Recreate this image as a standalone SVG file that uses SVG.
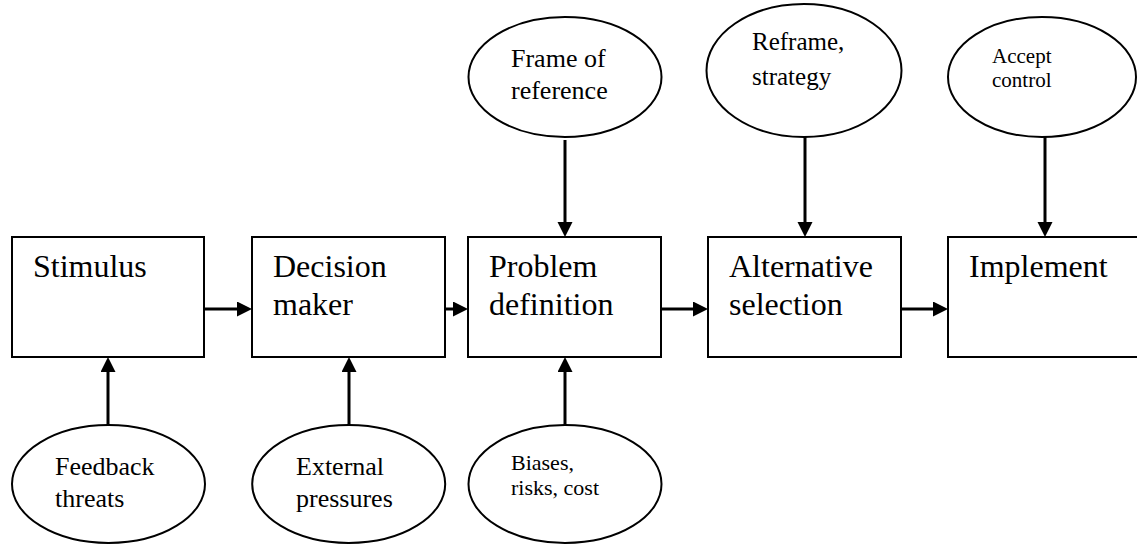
<svg xmlns="http://www.w3.org/2000/svg" width="1137" height="545" viewBox="0 0 1137 545">
<style>
.box{fill:#fff;stroke:#000;stroke-width:2}
.ell{fill:#fff;stroke:#000;stroke-width:2}
.big{font-size:32px}
.mid{font-size:26px}
.mid2{font-size:25px}
.sm{font-size:22px}
.xs{font-size:21px}
.arr{stroke:#000;stroke-width:3;fill:none;marker-end:url(#ah)}
</style>
<defs>
<marker id="ah" markerUnits="userSpaceOnUse" markerWidth="16" markerHeight="16" refX="0" refY="7.5" orient="auto">
<path d="M0,0 L15,7.5 L0,15 Z" fill="#000"/>
</marker>
</defs>
<rect width="1137" height="545" fill="#fff"/>
<g id="connectors">
<line class="arr" x1="204" y1="309" x2="237" y2="309"/>
<line class="arr" x1="445" y1="309" x2="453" y2="309"/>
<line class="arr" x1="661" y1="309" x2="693" y2="309"/>
<line class="arr" x1="901" y1="309" x2="933" y2="309"/>
<line class="arr" x1="108" y1="425" x2="108" y2="372"/>
<line class="arr" x1="349" y1="425" x2="349" y2="372"/>
<line class="arr" x1="565" y1="425" x2="565" y2="372"/>
<line class="arr" x1="565" y1="140" x2="565" y2="222"/>
<line class="arr" x1="805" y1="137" x2="805" y2="222"/>
<line class="arr" x1="1045" y1="137" x2="1045" y2="222"/>
</g>
<g font-family="'Liberation Serif', 'Times New Roman', Times, 'DejaVu Serif', serif" fill="#000">
<g id="stimulus">
<rect class="box" x="12" y="237" width="192" height="120"/>
<text class="big" x="33" y="277">Stimulus</text>
</g>
<g id="decision-maker">
<rect class="box" x="252" y="237" width="193" height="120"/>
<text class="big" x="273" y="277">Decision</text>
<text class="big" x="273" y="315">maker</text>
</g>
<g id="problem-definition">
<rect class="box" x="468" y="237" width="193" height="120"/>
<text class="big" x="489" y="277">Problem</text>
<text class="big" x="489" y="315">definition</text>
</g>
<g id="alternative-selection">
<rect class="box" x="708" y="237" width="193" height="120"/>
<text class="big" x="729" y="277">Alternative</text>
<text class="big" x="729" y="315">selection</text>
</g>
<g id="implement">
<rect class="box" x="948" y="237" width="193" height="120"/>
<text class="big" x="969" y="277">Implement</text>
</g>
<g id="frame-of-reference">
<ellipse class="ell" cx="565" cy="77" rx="96.5" ry="60"/>
<text class="mid" x="511" y="67">Frame of</text>
<text class="mid" x="511" y="99">reference</text>
</g>
<g id="reframe-strategy">
<ellipse class="ell" cx="804" cy="70.5" rx="97.5" ry="66.5"/>
<text class="mid2" x="752" y="50">Reframe,</text>
<text class="mid2" x="752" y="85">strategy</text>
</g>
<g id="accept-control">
<ellipse class="ell" cx="1042" cy="77" rx="94" ry="60"/>
<text class="xs" x="992" y="63">Accept</text>
<text class="xs" x="992" y="87">control</text>
</g>
<g id="feedback-threats">
<ellipse class="ell" cx="108.5" cy="484" rx="96.5" ry="59"/>
<text class="mid" x="55" y="475">Feedback</text>
<text class="mid" x="55" y="507">threats</text>
</g>
<g id="external-pressures">
<ellipse class="ell" cx="348.7" cy="484" rx="96.5" ry="59"/>
<text class="mid" x="296" y="475">External</text>
<text class="mid" x="296" y="507">pressures</text>
</g>
<g id="biases-risks-cost">
<ellipse class="ell" cx="565" cy="484" rx="96.5" ry="59"/>
<text class="sm" x="511" y="470">Biases,</text>
<text class="sm" x="511" y="495">risks, cost</text>
</g>
</g>
</svg>
